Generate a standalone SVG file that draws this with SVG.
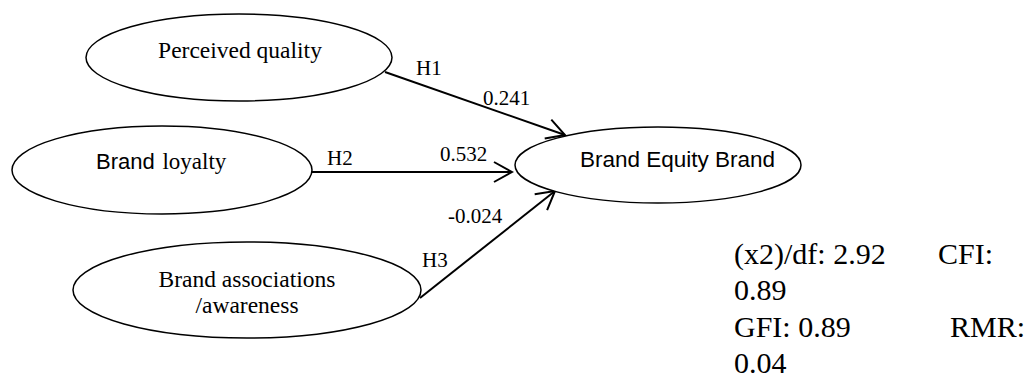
<svg xmlns="http://www.w3.org/2000/svg" width="1032" height="377" viewBox="0 0 1032 377">
<style>
.node ellipse{fill:#fff;stroke:#000;stroke-width:1.5}
.serif{font-family:"Liberation Serif","Times New Roman",serif;fill:#000}
.sans{font-family:"Liberation Sans",Arial,sans-serif;fill:#000}
.conn line{stroke:#000;stroke-width:2;fill:none}
.lbl{font-family:"Liberation Serif","Times New Roman",serif;font-size:21px;fill:#000}
.stats{font-family:"Liberation Serif","Times New Roman",serif;font-size:30px;fill:#000}
</style>
<defs>
<marker id="arr" viewBox="-21 -12 23 24" refX="0" refY="0" markerWidth="23" markerHeight="24" markerUnits="userSpaceOnUse" orient="auto">
<path d="M-18,-10 L0,0 L-18,10" fill="none" stroke="#000" stroke-width="2"/>
</marker>
</defs>
<rect width="1032" height="377" fill="#fff"/>
<g id="connectors" class="conn">
<line x1="385" y1="72" x2="565" y2="135" marker-end="url(#arr)"/>
<line x1="312" y1="172" x2="512" y2="172" marker-end="url(#arr)"/>
<line x1="420" y1="298" x2="555" y2="191" marker-end="url(#arr)"/>
</g>
<g id="edge-labels">
<text class="lbl" x="416" y="75">H1</text>
<text class="lbl" x="483" y="105">0.241</text>
<text class="lbl" x="327" y="165">H2</text>
<text class="lbl" x="440" y="161">0.532</text>
<text class="lbl" x="448" y="223">-0.024</text>
<text class="lbl" x="422" y="267">H3</text>
</g>
<g id="perceived-quality" class="node">
<ellipse cx="239" cy="57.5" rx="153" ry="43.5"/>
<text class="serif" x="240" y="58" font-size="23.5" text-anchor="middle">Perceived quality</text>
</g>
<g id="brand-loyalty" class="node">
<ellipse cx="162" cy="170" rx="150" ry="44"/>
<text x="96" y="169"><tspan class="sans" font-size="22">Brand</tspan><tspan class="serif" font-size="23" dx="2"> loyalty</tspan></text>
</g>
<g id="brand-associations" class="node">
<ellipse cx="247" cy="290" rx="174" ry="48"/>
<text class="serif" x="247" y="287" font-size="23.5" text-anchor="middle">Brand associations</text>
<text class="serif" x="247" y="313" font-size="23.5" text-anchor="middle">/awareness</text>
</g>
<g id="brand-equity" class="node">
<ellipse cx="658" cy="165" rx="143" ry="38"/>
<text class="sans" x="580" y="167" font-size="22.5">Brand Equity Brand</text>
</g>
<g id="fit-stats" class="stats">
<text x="734" y="264">(x2)/df: 2.92</text>
<text x="938" y="264">CFI:</text>
<text x="734" y="300">0.89</text>
<text x="734" y="337">GFI: 0.89</text>
<text x="950" y="337">RMR:</text>
<text x="734" y="373">0.04</text>
</g>
</svg>
